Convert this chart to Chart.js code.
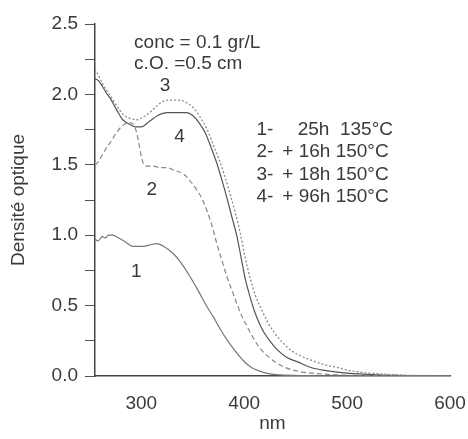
<!DOCTYPE html>
<html>
<head>
<meta charset="utf-8">
<script src="https://cdn.jsdelivr.net/npm/chart.js@4/dist/chart.umd.min.js"></script>
<style>
  html, body { margin: 0; padding: 0; background: #fff; }
  #chart { display: block; }
</style>
</head>
<body>
<canvas id="chart" width="468" height="439"></canvas>
<script>
// wavelength (nm) and optical density, one pair per curve
const nm1 = [255, 258, 262, 265, 268, 272, 278, 285, 292, 300, 308, 315, 322, 331, 339, 347, 355, 364, 370, 377, 383, 391, 399, 407, 415, 425, 435, 460, 500, 600];
const od1 = [0.97, 0.96, 0.99, 0.98, 1.00, 1.00, 0.98, 0.95, 0.92, 0.92, 0.93, 0.94, 0.92, 0.87, 0.80, 0.71, 0.61, 0.49, 0.42, 0.33, 0.26, 0.18, 0.11, 0.06, 0.035, 0.015, 0.008, 0.003, 0, 0];

const nm2 = [255, 258, 262, 266, 270, 276, 282, 288, 292, 295, 298, 300, 302, 306, 312, 318, 325, 332, 340, 347, 354, 359, 364, 369, 373, 378, 383, 388, 393, 398, 403, 408, 414, 420, 428, 440, 455, 466, 490, 530, 600];
const od2 = [1.50, 1.52, 1.57, 1.62, 1.66, 1.73, 1.78, 1.80, 1.79, 1.74, 1.64, 1.56, 1.51, 1.49, 1.49, 1.48, 1.48, 1.46, 1.44, 1.39, 1.32, 1.26, 1.17, 1.06, 0.95, 0.83, 0.71, 0.61, 0.51, 0.42, 0.35, 0.28, 0.21, 0.16, 0.11, 0.06, 0.03, 0.02, 0.008, 0.002, 0];

const nm3 = [255, 258, 262, 266, 270, 276, 282, 289, 296, 302, 308, 314, 321, 331, 338, 344, 350, 357, 364, 370, 376, 381, 386, 391, 396, 401, 406, 411, 417, 423, 430, 437, 446, 456, 466, 478, 491, 505, 532, 560, 600];
const od3 = [2.18, 2.14, 2.08, 2.03, 1.99, 1.92, 1.86, 1.83, 1.82, 1.84, 1.87, 1.91, 1.95, 1.96, 1.96, 1.94, 1.91, 1.84, 1.75, 1.64, 1.53, 1.42, 1.30, 1.17, 1.02, 0.84, 0.69, 0.57, 0.47, 0.38, 0.30, 0.24, 0.18, 0.14, 0.11, 0.08, 0.06, 0.035, 0.015, 0.005, 0];

const nm4 = [255, 258, 262, 266, 270, 276, 282, 288, 294, 300, 308, 316, 325, 335, 344, 350, 356, 362, 368, 373, 378, 383, 388, 393, 397, 401, 405, 410, 415, 420, 426, 433, 442, 452, 465, 478, 500, 530, 560, 600];
const od4 = [2.11, 2.10, 2.06, 2.01, 1.97, 1.89, 1.82, 1.79, 1.77, 1.77, 1.81, 1.85, 1.87, 1.87, 1.87, 1.85, 1.80, 1.73, 1.62, 1.52, 1.40, 1.27, 1.13, 0.99, 0.84, 0.69, 0.58, 0.46, 0.37, 0.30, 0.24, 0.18, 0.13, 0.10, 0.06, 0.04, 0.02, 0.008, 0.003, 0];

const xTicks = [300, 400, 500, 600];

// text written on the plot, placed in data units
const notes = [
  { x: 293, y: 2.37, text: 'conc = 0.1 gr/L' },
  { x: 293, y: 2.22, text: 'c.O. =0.5 cm' },
  { x: 318, y: 2.06, text: '3' },
  { x: 332, y: 1.70, text: '4' },
  { x: 305, y: 1.32, text: '2' },
  { x: 290, y: 0.74, text: '1' },
  { x: 412, y: 1.75, text: '1-' },
  { x: 412, y: 1.59, text: '2-' },
  { x: 412, y: 1.43, text: '3-' },
  { x: 412, y: 1.27, text: '4-' },
  { x: 452, y: 1.75, text: '25h  135°C' },
  { x: 437, y: 1.59, text: '+ 16h 150°C' },
  { x: 437, y: 1.43, text: '+ 18h 150°C' },
  { x: 437, y: 1.27, text: '+ 96h 150°C' }
];

const font = "'Liberation Sans', Arial, sans-serif";

function pairs(xs, ys) {
  return xs.map((x, i) => ({ x: x, y: ys[i] }));
}

const notesPlugin = {
  id: 'notes',
  afterDatasetsDraw(chart) {
    const ctx = chart.ctx;
    const xs = chart.scales.x, ys = chart.scales.y;
    ctx.save();
    ctx.fillStyle = '#3a3a3a';
    ctx.font = '19px ' + font;
    ctx.textBaseline = 'middle';
    ctx.textAlign = 'left';
    notes.forEach(n => {
      ctx.fillText(n.text, xs.getPixelForValue(n.x), ys.getPixelForValue(n.y));
    });
    ctx.restore();
  }
};

const data = {
  datasets: [
    { label: '1', data: pairs(nm1, od1), borderColor: '#777', borderWidth: 1.2 },
    { label: '2', data: pairs(nm2, od2), borderColor: '#888', borderWidth: 1.2, borderDash: [5, 3] },
    { label: '3', data: pairs(nm3, od3), borderColor: '#8a8a8a', borderWidth: 1.3, borderDash: [2, 2] },
    { label: '4', data: pairs(nm4, od4), borderColor: '#555', borderWidth: 1.2 }
  ]
};

const config = {
  type: 'line',
  data: data,
  options: {
    responsive: false,
    animation: false,
    devicePixelRatio: 1,
    elements: {
      point: { radius: 0 },
      line: { tension: 0.35, cubicInterpolationMode: 'monotone' }
    },
    layout: { padding: { top: 24, right: 18, left: 0, bottom: 0 } },
    plugins: {
      legend: { display: false },
      tooltip: { enabled: false }
    },
    scales: {
      x: {
        type: 'linear',
        min: 255,
        max: 600,
        afterBuildTicks: axis => { axis.ticks = xTicks.map(v => ({ value: v })); },
        afterFit: axis => {
          axis.height = 63;
          axis.paddingLeft = 0;
          axis.paddingRight = 0;
        },
        ticks: {
          color: '#3a3a3a',
          font: { family: font, size: 19 },
          padding: 16,
          maxRotation: 0
        },
        grid: { display: true, drawOnChartArea: false, drawTicks: false },
        border: { display: true, color: '#444', width: 1.5 },
        title: {
          display: true,
          text: 'nm',
          color: '#3a3a3a',
          font: { family: font, size: 19 },
          padding: { top: 0, bottom: 4 }
        }
      },
      y: {
        min: 0,
        max: 2.5,
        afterFit: axis => { axis.width = 95; },
        ticks: {
          stepSize: 0.25,
          color: '#3a3a3a',
          font: { family: font, size: 19 },
          padding: 7,
          callback: v => (Math.round(v * 100) % 50 === 0 ? v.toFixed(1) : '')
        },
        grid: { display: true, drawOnChartArea: false, tickLength: 10, color: '#555' },
        border: { display: true, color: '#444', width: 1.5 },
        title: {
          display: true,
          text: 'Densité optique',
          color: '#3a3a3a',
          font: { family: font, size: 19 },
          padding: { top: 7, bottom: 0 }
        }
      }
    }
  },
  plugins: [notesPlugin]
};

var chart = new Chart(
  document.getElementById('chart'),
  config
);
</script>
</body>
</html>
